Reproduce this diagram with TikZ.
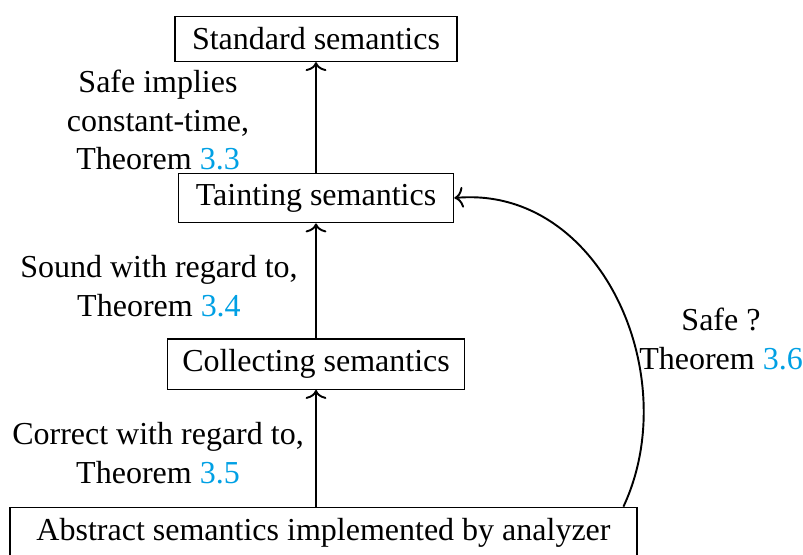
\documentclass[tikz,border=0pt]{standalone}
\usepackage{fontspec}
\setmainfont{Liberation Serif}
\usetikzlibrary{arrows.meta}
\definecolor{linkblue}{RGB}{0,160,228}
\newcommand{\thref}[1]{\textcolor{linkblue}{#1}}
\tikzset{
  sembox/.style={draw, line width=0.45pt, inner xsep=4.6pt, minimum height=14pt, font=\fontsize{10}{12}\selectfont},
  lbl/.style={align=center, inner sep=0pt, font=\fontsize{10}{12}\selectfont},
  arr/.style={-{To[width=6.5pt,length=2.8pt]}, line width=0.6pt},
}
\begin{document}
\begin{tikzpicture}[x=0.3125pt, y=-0.3125pt]
\useasboundingbox (0,0) rectangle (803,554);
\node[sembox, minimum width=88pt] (std) at (316,39) {Standard semantics};
\node[sembox, minimum width=86pt] (taint) at (316,198) {Tainting semantics};
\node[sembox] (coll) at (316,364) {Collecting semantics};
\node[sembox, minimum height=16pt, minimum width=196pt] (abs) at (323.5,533) {Abstract semantics implemented by analyzer};
\draw[arr] (taint) -- (std);
\draw[arr] (coll) -- (taint);
\draw[arr] (abs.north -| coll) -- (coll);
\coordinate (cs) at ([xshift=-4.5pt]abs.north east);
\draw[arr] (cs) .. controls (685,375) and (600,185) .. (taint.east);
\node[lbl] (l1) at (158,120) {Safe implies\\constant-time,\\Theorem \thref{3.3}};
\node[lbl] (l2) at (159,286) {Sound with regard to,\\Theorem \thref{3.4}};
\node[lbl] (l3) at (158,453) {Correct with regard to,\\Theorem \thref{3.5}};
\node[lbl] (l4) at (721,339) {Safe ?\\Theorem \thref{3.6}};
\end{tikzpicture}
\end{document}
